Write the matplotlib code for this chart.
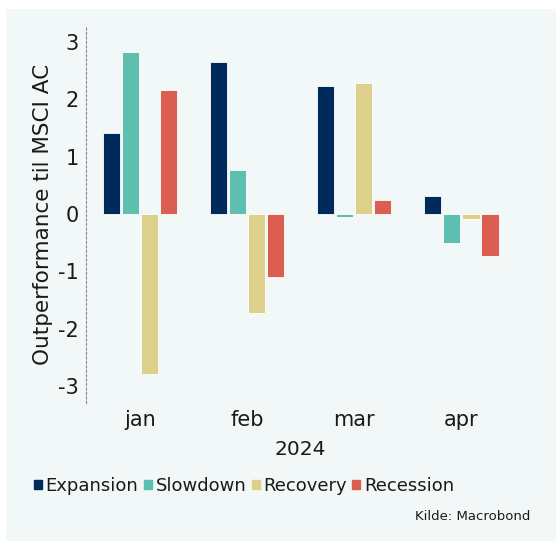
import numpy as np
import matplotlib.pyplot as plt
from matplotlib.patches import Rectangle

plt.rcParams['font.family'] = ['DejaVu Sans']
plt.rcParams['axes.unicode_minus'] = False

months = ['jan', 'feb', 'mar', 'apr']
phases = ['Expansion', 'Slowdown', 'Recovery', 'Recession']
expansion = [1.41, 2.66, 2.24, 0.31]
slowdown = [2.83, 0.76, -0.06, -0.50]
recovery = [-2.80, -1.73, 2.28, -0.09]
recession = [2.16, -1.10, 0.24, -0.73]
colors = ['#002a5c', '#5ebfb0', '#ddd08b', '#db5f51']

bg = '#f1f8f7'
fig = plt.figure(figsize=(5.56, 5.42), dpi=100)
fig.patch.set_facecolor('white')
# light panel behind everything
fig.patches.append(Rectangle((6 / 556, 1 - 541 / 542), 550 / 556, 532 / 542,
                             transform=fig.transFigure, facecolor=bg,
                             edgecolor='none', zorder=-5))

ax = fig.add_axes([86 / 556, 1 - 403 / 542, 429 / 556, 377 / 542])
ax.set_facecolor(bg)

x = np.arange(len(months))
step = 0.178
width = 0.16
series = [expansion, slowdown, recovery, recession]
for i, (vals, name, c) in enumerate(zip(series, phases, colors)):
    ax.bar(x + (i - 1.5) * step, vals, width, color=c, label=name,
           edgecolor='white', linewidth=0.6)

ax.set_xlim(-0.505, 3.5)
ax.set_ylim(-3.3, 3.28)
ax.set_yticks([-3, -2, -1, 0, 1, 2, 3])
ax.set_xticks(x)
ax.set_xticklabels(months)
ax.tick_params(axis='both', length=0, labelsize=15, colors='#1a1a1a')
ax.tick_params(axis='x', pad=5)
ax.tick_params(axis='y', pad=5)

for s in ['top', 'right', 'bottom']:
    ax.spines[s].set_visible(False)
ax.spines['left'].set_linestyle((0, (2, 2)))
ax.spines['left'].set_color('#888888')
ax.spines['left'].set_linewidth(0.8)

ax.set_ylabel('Outperformance til MSCI AC', fontsize=15.5, color='#1a1a1a', labelpad=4)
ax.set_xlabel('2024', fontsize=14.5, color='#1a1a1a', labelpad=7)

handles = [plt.Rectangle((0, 0), 1, 1, color=c) for c in colors]
fig.legend(handles, phases, loc='center', bbox_to_anchor=(244 / 556, 1 - 486 / 542),
           ncol=4, frameon=False, fontsize=13, handlelength=0.45, handleheight=0.45,
           handletextpad=0.2, columnspacing=0.3, labelcolor='#1a1a1a')

fig.text(530 / 556, 1 - 516 / 542, 'Kilde: Macrobond', ha='right', va='center',
         fontsize=9.5, color='#1a1a1a')

fig.savefig('out.png', dpi=100, facecolor='white')
